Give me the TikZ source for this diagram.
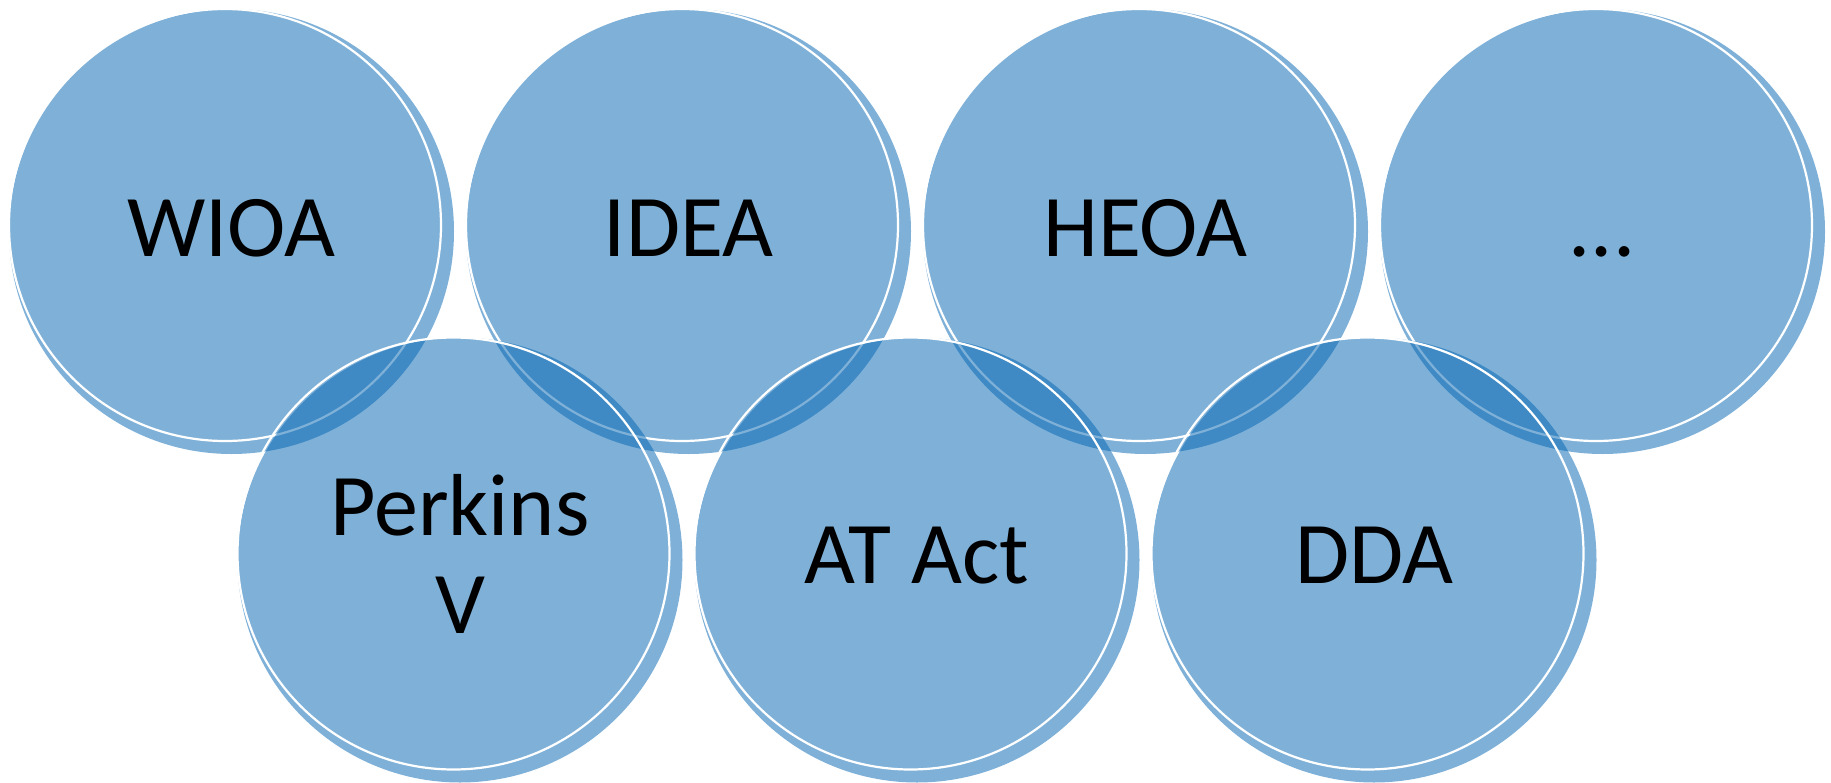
\documentclass[tikz,border=0pt]{standalone}
\usepackage{fontspec}
\setmainfont{Carlito}
\definecolor{discblue}{RGB}{0,100,178}
\begin{document}
\begin{tikzpicture}[x=1pt,y=-1pt,
  disc/.style={circle, inner sep=0pt, outer sep=0pt, minimum size=445pt, fill=discblue, fill opacity=0.5},
  ring/.style={circle, inner sep=0pt, outer sep=0pt, minimum size=432pt, draw=white, line width=2.2pt},
  lbl/.style={font=\fontsize{88}{98}\selectfont, text=black, inner sep=0pt, anchor=base}]
\useasboundingbox (0,0) rectangle (1831,782);
% top row
\node[disc] (d1) at (231.5,231.5) {};
\node[ring] (r1) at (225,225) {};
\node[disc] (d2) at (688.5,231.5) {};
\node[ring] (r2) at (682,225) {};
\node[disc] (d3) at (1145.5,231.5) {};
\node[ring] (r3) at (1139,225) {};
\node[disc] (d4) at (1602.5,231.5) {};
\node[ring] (r4) at (1596,225) {};
% bottom row
\node[disc] (d5) at (460,560) {};
\node[ring] (r5) at (453.5,553.5) {};
\node[disc] (d6) at (917,560) {};
\node[ring] (r6) at (910.5,553.5) {};
\node[disc] (d7) at (1374,560) {};
\node[ring] (r7) at (1367.5,553.5) {};
% labels
\node[lbl] (t1) at (231.5,256) {WIOA};
\node[lbl] (t2) at (688.5,256) {IDEA};
\node[lbl] (t3) at (1145.5,256) {HEOA};
\node[lbl] (t4) at (1602,256) {...};
\node[lbl] (t5a) at (460,535) {Perkins};
\node[lbl] (t5b) at (460,633) {V};
\node[lbl] (t6) at (917,583) {AT Act};
\node[lbl] (t7) at (1374,583) {DDA};
\end{tikzpicture}
\end{document}
